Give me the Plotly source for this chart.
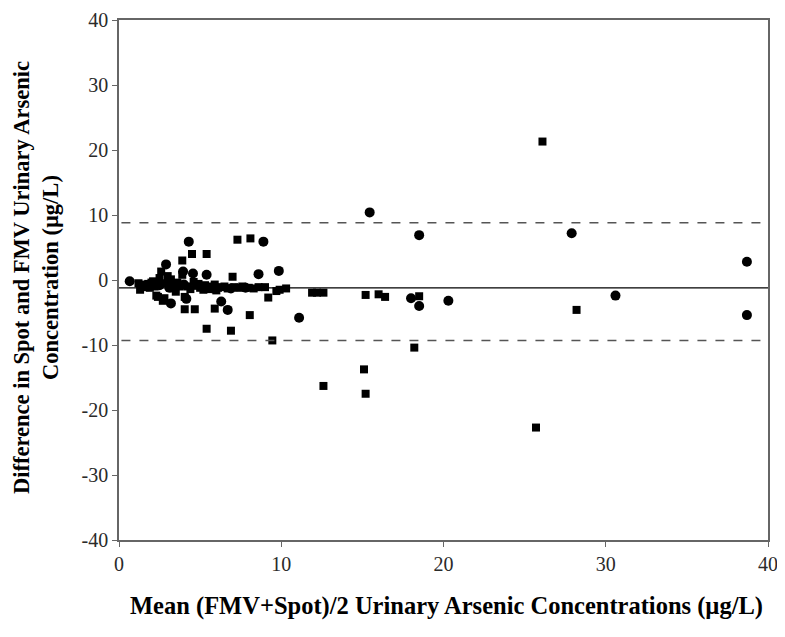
import plotly.graph_objects as go

# Square-marker observations (mean, difference)
sq_x = [1.2, 1.5, 1.3, 1.8, 2.0, 2.2, 2.4, 2.6, 2.8, 2.3, 2.7, 3.0, 3.3, 3.5, 3.6, 3.9, 3.9, 4.05, 4.05, 4.2,
        4.5, 4.67, 4.8, 5.0, 5.4, 5.3, 5.4, 5.7, 5.9, 6.1, 6.5, 6.9, 7.0, 7.1, 7.3, 7.6, 8.06, 8.1, 8.0, 8.6,
        9.2, 9.45, 9.7, 9.9, 10.3, 11.9, 12.2, 12.6, 12.6, 15.1, 15.2, 15.2, 16.0, 16.4, 18.2, 18.5, 25.7, 26.1, 28.2,
        1.6, 2.1, 2.9, 3.4, 4.4, 4.9, 5.5, 6.3, 6.7, 7.4, 8.3, 9.0, 1.9, 2.5, 3.2, 3.7, 4.6, 5.2, 5.9, 6.0]
sq_y = [-0.5, -0.7, -1.5, -0.6, -0.4, -1.0, -2.6, 1.3, -2.8, -2.4, -3.2, 0.6, -0.8, -1.8, -0.4, 3.0, 0.8, -2.6, -4.5, -1.0,
        4.0, -4.5, -0.9, -1.2, 4.0, -0.8, -7.5, -1.0, -4.4, -1.2, -1.0, -7.8, 0.5, -1.1, 6.2, -1.0, -5.4, 6.4, -1.2, -1.1,
        -2.7, -9.3, -1.7, -1.5, -1.3, -1.95, -1.95, -1.95, -16.3, -13.75, -2.3, -17.5, -2.2, -2.6, -10.4, -2.5, -22.7, 21.3, -4.6,
        -1.1, -0.2, -0.5, -1.3, -1.4, -0.6, -1.4, -1.1, -1.3, -1.2, -1.3, -1.1, -1.2, 0.3, 0.1, -1.0, -0.3, -1.5, -0.7, -1.6]

# Circle-marker observations (mean, difference)
ci_x = [0.66, 2.9, 3.2, 3.95, 4.15, 4.3, 4.56, 5.4, 6.3, 6.7, 8.6, 8.9, 9.85, 11.1, 15.45, 18.0, 18.5, 18.5, 20.3,
        27.9, 30.6, 38.7, 38.7, 2.5, 3.1, 4.0, 5.8, 6.9, 7.8]
ci_y = [-0.2, 2.4, -3.6, 1.3, -2.9, 5.9, 1.0, 0.8, -3.3, -4.6, 0.9, 5.9, 1.4, -5.8, 10.4, -2.8, 6.9, -4.0, -3.2,
        7.2, -2.4, 2.8, -5.4, -0.8, -1.2, -0.7, -1.3, -1.3, -1.2]

mean_diff = -1.2
upper_loa = 8.8
lower_loa = -9.3

x_ticks = [0, 10, 20, 30, 40]
y_ticks = [-40, -30, -20, -10, 0, 10, 20, 30, 40]
y_tick_text = ["-40", "-30", "-20", "-10", "0", "10", "20", "30", "40"]

fig = go.Figure()
fig.add_trace(go.Scatter(x=sq_x, y=sq_y, mode="markers",
                         marker=dict(symbol="square", size=8, color="black"), showlegend=False))
fig.add_trace(go.Scatter(x=ci_x, y=ci_y, mode="markers",
                         marker=dict(symbol="circle", size=10, color="black"), showlegend=False))

fig.add_shape(type="line", xref="x", yref="y", x0=0, x1=40, y0=mean_diff, y1=mean_diff,
              line=dict(color="black", width=1.2))
for v in (upper_loa, lower_loa):
    fig.add_shape(type="line", xref="x", yref="y", x0=0.15, x1=40, y0=v, y1=v,
                  line=dict(color="#555555", width=1.5, dash="dash"))

axis_common = dict(showgrid=False, zeroline=False, showline=True, linecolor="#666666", linewidth=1.5,
                   mirror=True, ticks="outside", ticklen=5, tickcolor="#666666", automargin=False,
                   tickfont=dict(family="Liberation Serif", size=20, color="#2a2a2a"))

fig.update_xaxes(range=[0, 40], tickvals=x_ticks, **axis_common)
fig.update_yaxes(range=[-40, 40], tickvals=y_ticks, ticktext=y_tick_text, **axis_common)

fig.add_annotation(text="<b>Difference in Spot and FMV Urinary Arsenic<br>Concentration (µg/L)</b>",
                   xref="paper", yref="paper", x=-0.127, y=0.505, textangle=-90, showarrow=False,
                   xanchor="center", yanchor="middle",
                   font=dict(family="Liberation Serif", size=22.5, color="black"))
fig.add_annotation(text="<b>Mean (FMV+Spot)/2 Urinary Arsenic Concentrations (µg/L)</b>",
                   xref="paper", yref="paper", x=0.504, y=-0.127, showarrow=False,
                   xanchor="center", yanchor="middle",
                   font=dict(family="Liberation Serif", size=24.5, color="black"))

fig.update_layout(width=777, height=629, margin=dict(l=111, r=17, t=12, b=97),
                  plot_bgcolor="white", paper_bgcolor="white")

fig.write_html("out.html")
